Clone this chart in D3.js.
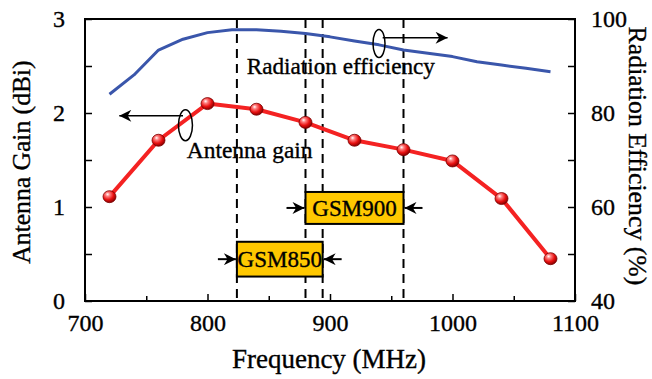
<!DOCTYPE html>
<html>
<head>
<meta charset="utf-8">
<script src="https://cdn.jsdelivr.net/npm/d3@7"></script>
<style>
  body { margin: 0; background: #fff; }
  .axis path { display: none; }
  .axis line { stroke: #000; stroke-width: 1.5px; }
  svg text { stroke: #000; stroke-width: 0.35px; }
</style>
</head>
<body>
<svg id="chart"></svg>
<script>
var serif = "'Liberation Serif', 'Times New Roman', Tinos, 'DejaVu Serif', serif";

// antenna gain (left axis)
var gainFreq = [720, 760, 800, 840, 880, 920, 960, 1000, 1040, 1080];
var gainValues = [1.11, 1.71, 2.10, 2.04, 1.90, 1.71, 1.61, 1.49, 1.09, 0.45];

// radiation efficiency (right axis)
var effFreq = [720, 740, 760, 780, 800, 820, 840, 860, 880, 900, 920, 940, 960, 980, 1000, 1020, 1040, 1060, 1080];
var effValues = [84.0, 88.1, 93.4, 95.7, 97.1, 97.7, 97.7, 97.4, 96.9, 96.2, 95.3, 94.5, 93.4, 92.7, 92.0, 90.9, 90.2, 89.5, 88.8];

// GSM bands
var bandNames = ["GSM850", "GSM900"];
var bandStart = [824, 880];
var bandEnd = [894, 960];
var bandLow = [0.26, 0.82];
var bandHigh = [0.63, 1.16];

var xTicks = [700, 800, 900, 1000, 1100];
var leftTicks = [0, 1, 2, 3];
var rightTicks = [40, 60, 80, 100];

var margin = {top: 19, right: 77, bottom: 78, left: 85},
    width = 652 - margin.left - margin.right,
    height = 379 - margin.top - margin.bottom;

var svg = d3.select("#chart")
    .attr("width", 652)
    .attr("height", 379)
    .attr("font-family", serif);

var defs = svg.append("defs");
var grad = defs.append("radialGradient")
    .attr("id", "ball")
    .attr("cx", "40%").attr("cy", "35%").attr("r", "65%")
    .attr("fx", "35%").attr("fy", "30%");
grad.append("stop").attr("offset", "0%").attr("stop-color", "#ffffff");
grad.append("stop").attr("offset", "25%").attr("stop-color", "#ff8080");
grad.append("stop").attr("offset", "65%").attr("stop-color", "#e81010");
grad.append("stop").attr("offset", "100%").attr("stop-color", "#8a0000");

defs.append("marker")
    .attr("id", "arrowBig")
    .attr("viewBox", "0 0 10 10")
    .attr("refX", 10).attr("refY", 5)
    .attr("markerWidth", 16).attr("markerHeight", 12)
    .attr("markerUnits", "userSpaceOnUse")
    .attr("orient", "auto")
    .append("path")
    .attr("d", "M0,0 L10,5 L0,10 L3,5 Z")
    .attr("fill", "#000");

var g = svg.append("g")
    .attr("transform", "translate(" + margin.left + "," + margin.top + ")");

var x = d3.scaleLinear().domain([700, 1100]).range([0, width]);
var yL = d3.scaleLinear().domain([0, 3]).range([height, 0]);
var yR = d3.scaleLinear().domain([40, 100]).range([height, 0]);

function styleTicks(sel) {
    sel.attr("font-family", serif);
    sel.selectAll("text").attr("font-size", 24).attr("fill", "#000");
}

// axes: minor ticks
g.append("g").attr("class", "axis")
    .attr("transform", "translate(0," + height + ")")
    .call(d3.axisBottom(x).tickValues(d3.range(750, 1100, 100)).tickSize(-5).tickFormat(""));
g.append("g").attr("class", "axis")
    .call(d3.axisLeft(yL).tickValues([0.5, 1.5, 2.5]).tickSize(-7).tickFormat(""));
g.append("g").attr("class", "axis")
    .attr("transform", "translate(" + width + ",0)")
    .call(d3.axisRight(yR).tickValues([50, 70, 90]).tickSize(-7).tickFormat(""));

// axes: major ticks with labels
g.append("g").attr("class", "axis")
    .attr("transform", "translate(0," + height + ")")
    .call(d3.axisBottom(x).tickValues(xTicks).tickSize(-7).tickPadding(13).tickFormat(d3.format("d")))
    .call(styleTicks);
g.append("g").attr("class", "axis")
    .call(d3.axisLeft(yL).tickValues(leftTicks).tickSize(-7).tickPadding(20).tickFormat(d3.format("d")))
    .call(styleTicks);
g.append("g").attr("class", "axis")
    .attr("transform", "translate(" + width + ",0)")
    .call(d3.axisRight(yR).tickValues(rightTicks).tickSize(-7).tickPadding(16).tickFormat(d3.format("d")))
    .call(styleTicks);

// dashed band edges
var edges = bandStart.concat(bandEnd);
g.selectAll(".edge")
    .data(edges)
    .enter().append("line")
    .attr("class", "edge")
    .attr("x1", function(d) { return x(d); })
    .attr("x2", function(d) { return x(d); })
    .attr("y1", 0).attr("y2", height)
    .attr("stroke", "#000")
    .attr("stroke-width", 2)
    .attr("stroke-dasharray", "9,6");

// frame
g.append("rect")
    .attr("width", width).attr("height", height)
    .attr("fill", "none").attr("stroke", "#000").attr("stroke-width", 2);

// efficiency line
var effData = effFreq.map(function(f, i) { return [f, effValues[i]]; });
g.append("path")
    .datum(effData)
    .attr("fill", "none")
    .attr("stroke", "#3a56ab")
    .attr("stroke-width", 3)
    .attr("stroke-linejoin", "round")
    .attr("d", d3.line().x(function(d) { return x(d[0]); }).y(function(d) { return yR(d[1]); }));

// gain line
var gainData = gainFreq.map(function(f, i) { return [f, gainValues[i]]; });
g.append("path")
    .datum(gainData)
    .attr("fill", "none")
    .attr("stroke", "#f42222")
    .attr("stroke-width", 4)
    .attr("stroke-linejoin", "round")
    .attr("d", d3.line().x(function(d) { return x(d[0]); }).y(function(d) { return yL(d[1]); }));

g.selectAll(".ball")
    .data(gainData)
    .enter().append("ellipse")
    .attr("class", "ball")
    .attr("cx", function(d) { return x(d[0]); })
    .attr("cy", function(d) { return yL(d[1]); })
    .attr("rx", 6.5).attr("ry", 6)
    .attr("fill", "url(#ball)")
    .attr("stroke", "#7a0000")
    .attr("stroke-width", 0.8);

// GSM boxes
bandNames.forEach(function(name, i) {
    var x0 = x(bandStart[i]), x1 = x(bandEnd[i]);
    var y0 = yL(bandHigh[i]), y1 = yL(bandLow[i]);
    var ym = (y0 + y1) / 2;
    g.append("rect")
        .attr("x", x0).attr("y", y0)
        .attr("width", x1 - x0).attr("height", y1 - y0)
        .attr("fill", "#ffc800")
        .attr("stroke", "#000").attr("stroke-width", 2);
    g.append("text")
        .attr("x", (x0 + x1) / 2).attr("y", ym + 8)
        .attr("text-anchor", "middle")
        .attr("font-size", 23)
        .text(name);
    g.append("line")
        .attr("x1", x0 - 19).attr("x2", x0 - 1).attr("y1", ym).attr("y2", ym)
        .attr("stroke", "#000").attr("stroke-width", 2)
        .attr("marker-end", "url(#arrowBig)");
    g.append("line")
        .attr("x1", x1 + 19).attr("x2", x1 + 1).attr("y1", ym).attr("y2", ym)
        .attr("stroke", "#000").attr("stroke-width", 2)
        .attr("marker-end", "url(#arrowBig)");
});

// annotations
function annot(ex, ey, rx, ry, lineY, lineX0, lineX1) {
    g.append("ellipse")
        .attr("cx", ex).attr("cy", ey).attr("rx", rx).attr("ry", ry)
        .attr("fill", "none").attr("stroke", "#000").attr("stroke-width", 1.5);
    g.append("line")
        .attr("x1", lineX0).attr("x2", lineX1).attr("y1", lineY).attr("y2", lineY)
        .attr("stroke", "#000").attr("stroke-width", 1.5)
        .attr("marker-end", "url(#arrowBig)");
}
annot(x(782), yL(1.87), 7, 15.5, yL(1.97), x(780), x(728));
annot(x(940), yL(2.74), 6, 14, yL(2.80), x(943), x(996));

g.append("text")
    .attr("x", x(783)).attr("y", yL(1.52))
    .attr("font-size", 23.5)
    .text("Antenna gain");
g.append("text")
    .attr("x", x(832)).attr("y", yL(2.42))
    .attr("font-size", 23.2)
    .text("Radiation efficiency");

// axis titles
svg.append("text")
    .attr("transform", "translate(" + 30 + "," + 162 + ") rotate(-90)")
    .attr("text-anchor", "middle")
    .attr("font-size", 25.6)
    .text("Antenna Gain (dBi)");
svg.append("text")
    .attr("transform", "translate(" + 629 + "," + 156 + ") rotate(90)")
    .attr("text-anchor", "middle")
    .attr("font-size", 25.8)
    .text("Radiation Efficiency (%)");
svg.append("text")
    .attr("x", 329).attr("y", 368)
    .attr("text-anchor", "middle")
    .attr("font-size", 27)
    .text("Frequency (MHz)");
</script>
</body>
</html>
